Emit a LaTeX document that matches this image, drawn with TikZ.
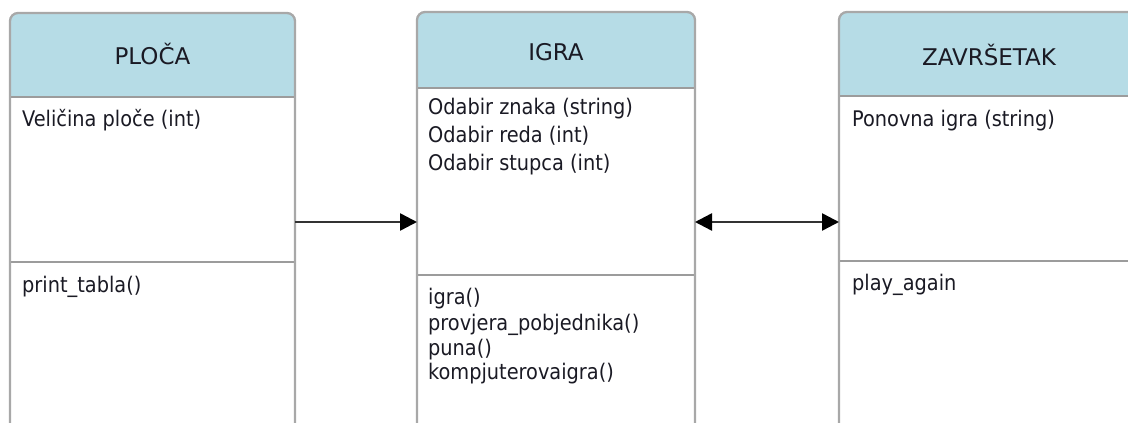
\documentclass[tikz,border=0pt]{standalone}
\usepackage{fontspec}
\setmainfont{DejaVu Sans Condensed}
\newfontfamily\hdrfont{DejaVu Sans}
\usetikzlibrary{arrows.meta}
\definecolor{hdrblue}{HTML}{B6DCE6}
\definecolor{bordgray}{HTML}{A8A8A8}
\definecolor{sepgray}{HTML}{9C9C9C}
\definecolor{txtcol}{HTML}{1A1A24}
\definecolor{conncol}{HTML}{333333}
\begin{document}
\begin{tikzpicture}[x=1pt,y=-1pt,
  hdrtext/.style={font=\hdrfont\fontsize{23}{27}\selectfont, text=txtcol, inner sep=0pt, anchor=base},
  itemtext/.style={font=\fontsize{21.5}{25}\selectfont, text=txtcol, inner sep=0pt, anchor=base west},
  boxline/.style={draw=bordgray, line width=2.3pt, rounded corners=8pt},
  sepline/.style={draw=sepgray, line width=2.3pt},
  hdrfill/.style={fill=hdrblue, rounded corners=8pt},
  conn/.style={draw=conncol, line width=2.5pt},
  fwd/.style={conn, -{Triangle[length=17pt,width=17pt,color=black]}},
  both/.style={conn, {Triangle[length=17pt,width=17pt,color=black]}-{Triangle[length=17pt,width=17pt,color=black]}}
]
\useasboundingbox (0,0) rectangle (1128,423);
\begin{scope}
\clip (0,0) rectangle (1128,423);
% ---- PLOCA box
\fill[hdrfill] (10,13) rectangle (295,110);
\fill[white] (10,97) rectangle (295,470);
\draw[sepline] (10,97) -- (295,97) (10,262) -- (295,262);
\draw[boxline] (10,13) rectangle (295,470);
% ---- IGRA box
\fill[hdrfill] (417,12) rectangle (695,100);
\fill[white] (417,88) rectangle (695,470);
\draw[sepline] (417,88) -- (695,88) (417,275) -- (695,275);
\draw[boxline] (417,12) rectangle (695,470);
% ---- ZAVRSETAK box
\fill[hdrfill] (839,12) rectangle (1139,110);
\fill[white] (839,96) rectangle (1139,470);
\draw[sepline] (839,96) -- (1139,96) (839,261) -- (1139,261);
\draw[boxline] (839,12) rectangle (1139,470);
\end{scope}

% headers
\node[hdrtext] (plocaH) at (152.5,64) {PLOČA};
\node[hdrtext] (igraH) at (556,60) {IGRA};
\node[hdrtext] (zavH) at (989,65) {ZAVRŠETAK};

% PLOCA items
\node[itemtext] (pa1) at (22,126) {Veličina ploče (int)};
\node[itemtext] (pm1) at (22,292) {print\_tabla()};

% IGRA items
\node[itemtext] (ia1) at (428,114.5) {Odabir znaka (string)};
\node[itemtext] (ia2) at (428,142) {Odabir reda (int)};
\node[itemtext] (ia3) at (428,170) {Odabir stupca (int)};
\node[itemtext] (im1) at (428,304) {igra()};
\node[itemtext] (im2) at (428,330) {provjera\_pobjednika()};
\node[itemtext] (im3) at (428,355) {puna()};
\node[itemtext] (im4) at (428,379) {kompjuterovaigra()};

% ZAVRSETAK items
\node[itemtext] (za1) at (852,126) {Ponovna igra (string)};
\node[itemtext] (zm1) at (852,290) {play\_again};

% connectors
\coordinate (plocaR) at (295,222);
\coordinate (igraL) at (417,222);
\coordinate (igraR) at (695,222);
\coordinate (zavL) at (839,222);
\draw[fwd] (plocaR) -- (igraL);
\draw[both] (igraR) -- (zavL);
\end{tikzpicture}
\end{document}
